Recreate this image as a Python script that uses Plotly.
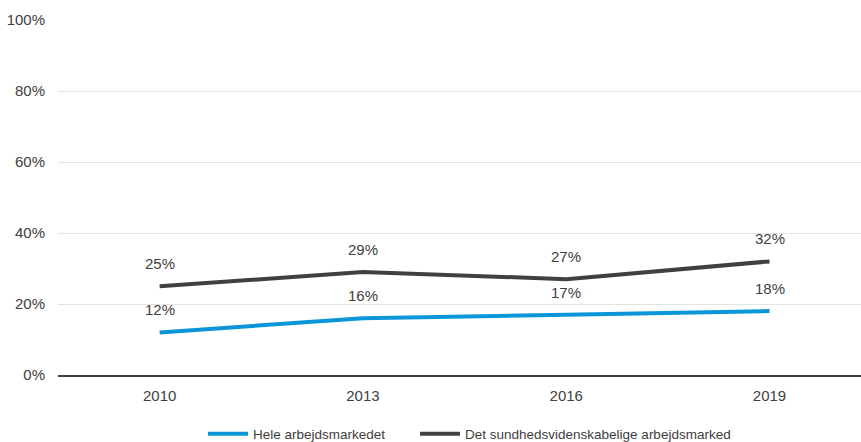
import plotly.graph_objects as go

years = ["2010", "2013", "2016", "2019"]
hele = [12, 16, 17, 18]
sundhed = [25, 29, 27, 32]
series_names = ["Hele arbejdsmarkedet", "Det sundhedsvidenskabelige arbejdsmarked"]
y_ticks = [0, 20, 40, 60, 80, 100]

BLUE = "#0a96d8"
GRAY = "#404040"
FONT = "Liberation Sans, Arial, sans-serif"

fig = go.Figure()
series = [(series_names[0], hele, BLUE, "legend"),
          (series_names[1], sundhed, GRAY, "legend2")]
for name, vals, col, leg in series:
    fig.add_trace(go.Scatter(
        x=years, y=vals, mode="lines", name=name, legend=leg,
        line=dict(color=col, width=4),
    ))
    # value labels above each point (x given as category index)
    for i, yv in enumerate(vals):
        fig.add_annotation(
            x=i, y=yv, text=f"{yv}%", showarrow=False,
            xref="x", yref="y",
            yanchor="bottom", yshift=12,
            font=dict(family=FONT, size=15, color="#404040"),
        )

legend_common = dict(
    orientation="h", xref="container", yref="container",
    xanchor="left", y=8 / 442, yanchor="middle",
    font=dict(family=FONT, size=13.5, color="#404040"),
    itemwidth=40,
)

fig.update_layout(
    width=861, height=442,
    margin=dict(l=58, r=0, t=20, b=67, autoexpand=False),
    paper_bgcolor="white", plot_bgcolor="white",
    font=dict(family=FONT, size=15, color="#404040"),
    showlegend=True,
    legend=dict(x=203 / 861, **legend_common),
    legend2=dict(x=415 / 861, **legend_common),
    xaxis=dict(
        type="category", range=[-0.5, 3.45],
        showgrid=False, showline=True, linecolor="#404040", linewidth=1.5,
        ticks="", tickfont=dict(size=15, color="#404040"),
        ticklabelstandoff=6,
    ),
    yaxis=dict(
        range=[0, 100], tickvals=y_ticks, ticktext=[f"{v}%" for v in y_ticks],
        showgrid=True, gridcolor="#e3e3e3", gridwidth=1,
        zeroline=False, showline=False, ticks="",
        tickfont=dict(size=15, color="#404040"),
        ticklabelstandoff=12,
    ),
)

fig.write_html("out.html")
